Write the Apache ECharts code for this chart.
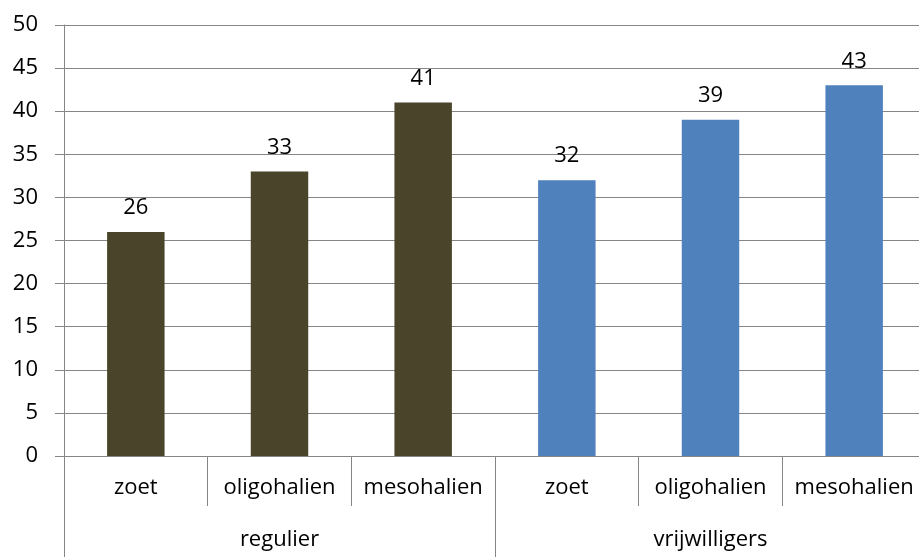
<!DOCTYPE html>
<html>
<head>
<meta charset="utf-8">
<script src="https://cdn.jsdelivr.net/npm/echarts@6/dist/echarts.min.js"></script>
<style>
  html, body { margin: 0; padding: 0; background: #fff; }
  #chart { width: 919px; height: 557px; }
</style>
</head>
<body>
<div id="chart"></div>
<script>
var categories = ['zoet', 'oligohalien', 'mesohalien', 'zoet', 'oligohalien', 'mesohalien'];
var groups = ['regulier', 'vrijwilligers'];
var reguliereValues = [26, 33, 41, null, null, null];
var vrijwilligersValues = [null, null, null, 32, 39, 43];
var yTicks = { min: 0, max: 50, interval: 5 };

var font = '"Open Sans", "Noto Sans", sans-serif';
var fontSize = 22;
var lineColor = '#868686';

var chart = echarts.init(document.getElementById('chart'));
var option = {
  animation: false,
  grid: { left: 64, top: 25, bottom: 101, width: 862, outerBoundsMode: 'none' },
  xAxis: [
    {
      type: 'category',
      data: categories,
      axisLine: { show: true, lineStyle: { color: lineColor, width: 1 } },
      axisTick: { show: true, interval: 0, length: 50, lineStyle: { color: lineColor } },
      axisLabel: { interval: 0, margin: 21, color: '#000', fontSize: fontSize, fontFamily: font }
    },
    {
      type: 'category',
      position: 'bottom',
      data: groups,
      axisLine: { show: false },
      axisTick: { show: true, interval: 0, length: 101, lineStyle: { color: lineColor } },
      axisLabel: { interval: 0, margin: 73, color: '#000', fontSize: fontSize, fontFamily: font }
    }
  ],
  yAxis: {
    type: 'value',
    min: yTicks.min,
    max: yTicks.max,
    interval: yTicks.interval,
    axisLine: { show: true, lineStyle: { color: lineColor } },
    axisTick: { show: true, length: 9, lineStyle: { color: lineColor } },
    axisLabel: { margin: 26, color: '#000', fontSize: fontSize, fontFamily: font },
    splitLine: { lineStyle: { color: lineColor, width: 1 } }
  },
  series: [
    {
      name: 'regulier',
      type: 'bar',
      data: reguliereValues,
      barWidth: '40%',
      barGap: '-100%',
      itemStyle: { color: '#4A452A' },
      label: { show: true, position: 'top', distance: 13, color: '#000', fontSize: fontSize, fontFamily: font }
    },
    {
      name: 'vrijwilligers',
      type: 'bar',
      data: vrijwilligersValues,
      barWidth: '40%',
      barGap: '-100%',
      itemStyle: { color: '#4F81BD' },
      label: { show: true, position: 'top', distance: 13, color: '#000', fontSize: fontSize, fontFamily: font }
    }
  ]
};
chart.setOption(option);
</script>
</body>
</html>
